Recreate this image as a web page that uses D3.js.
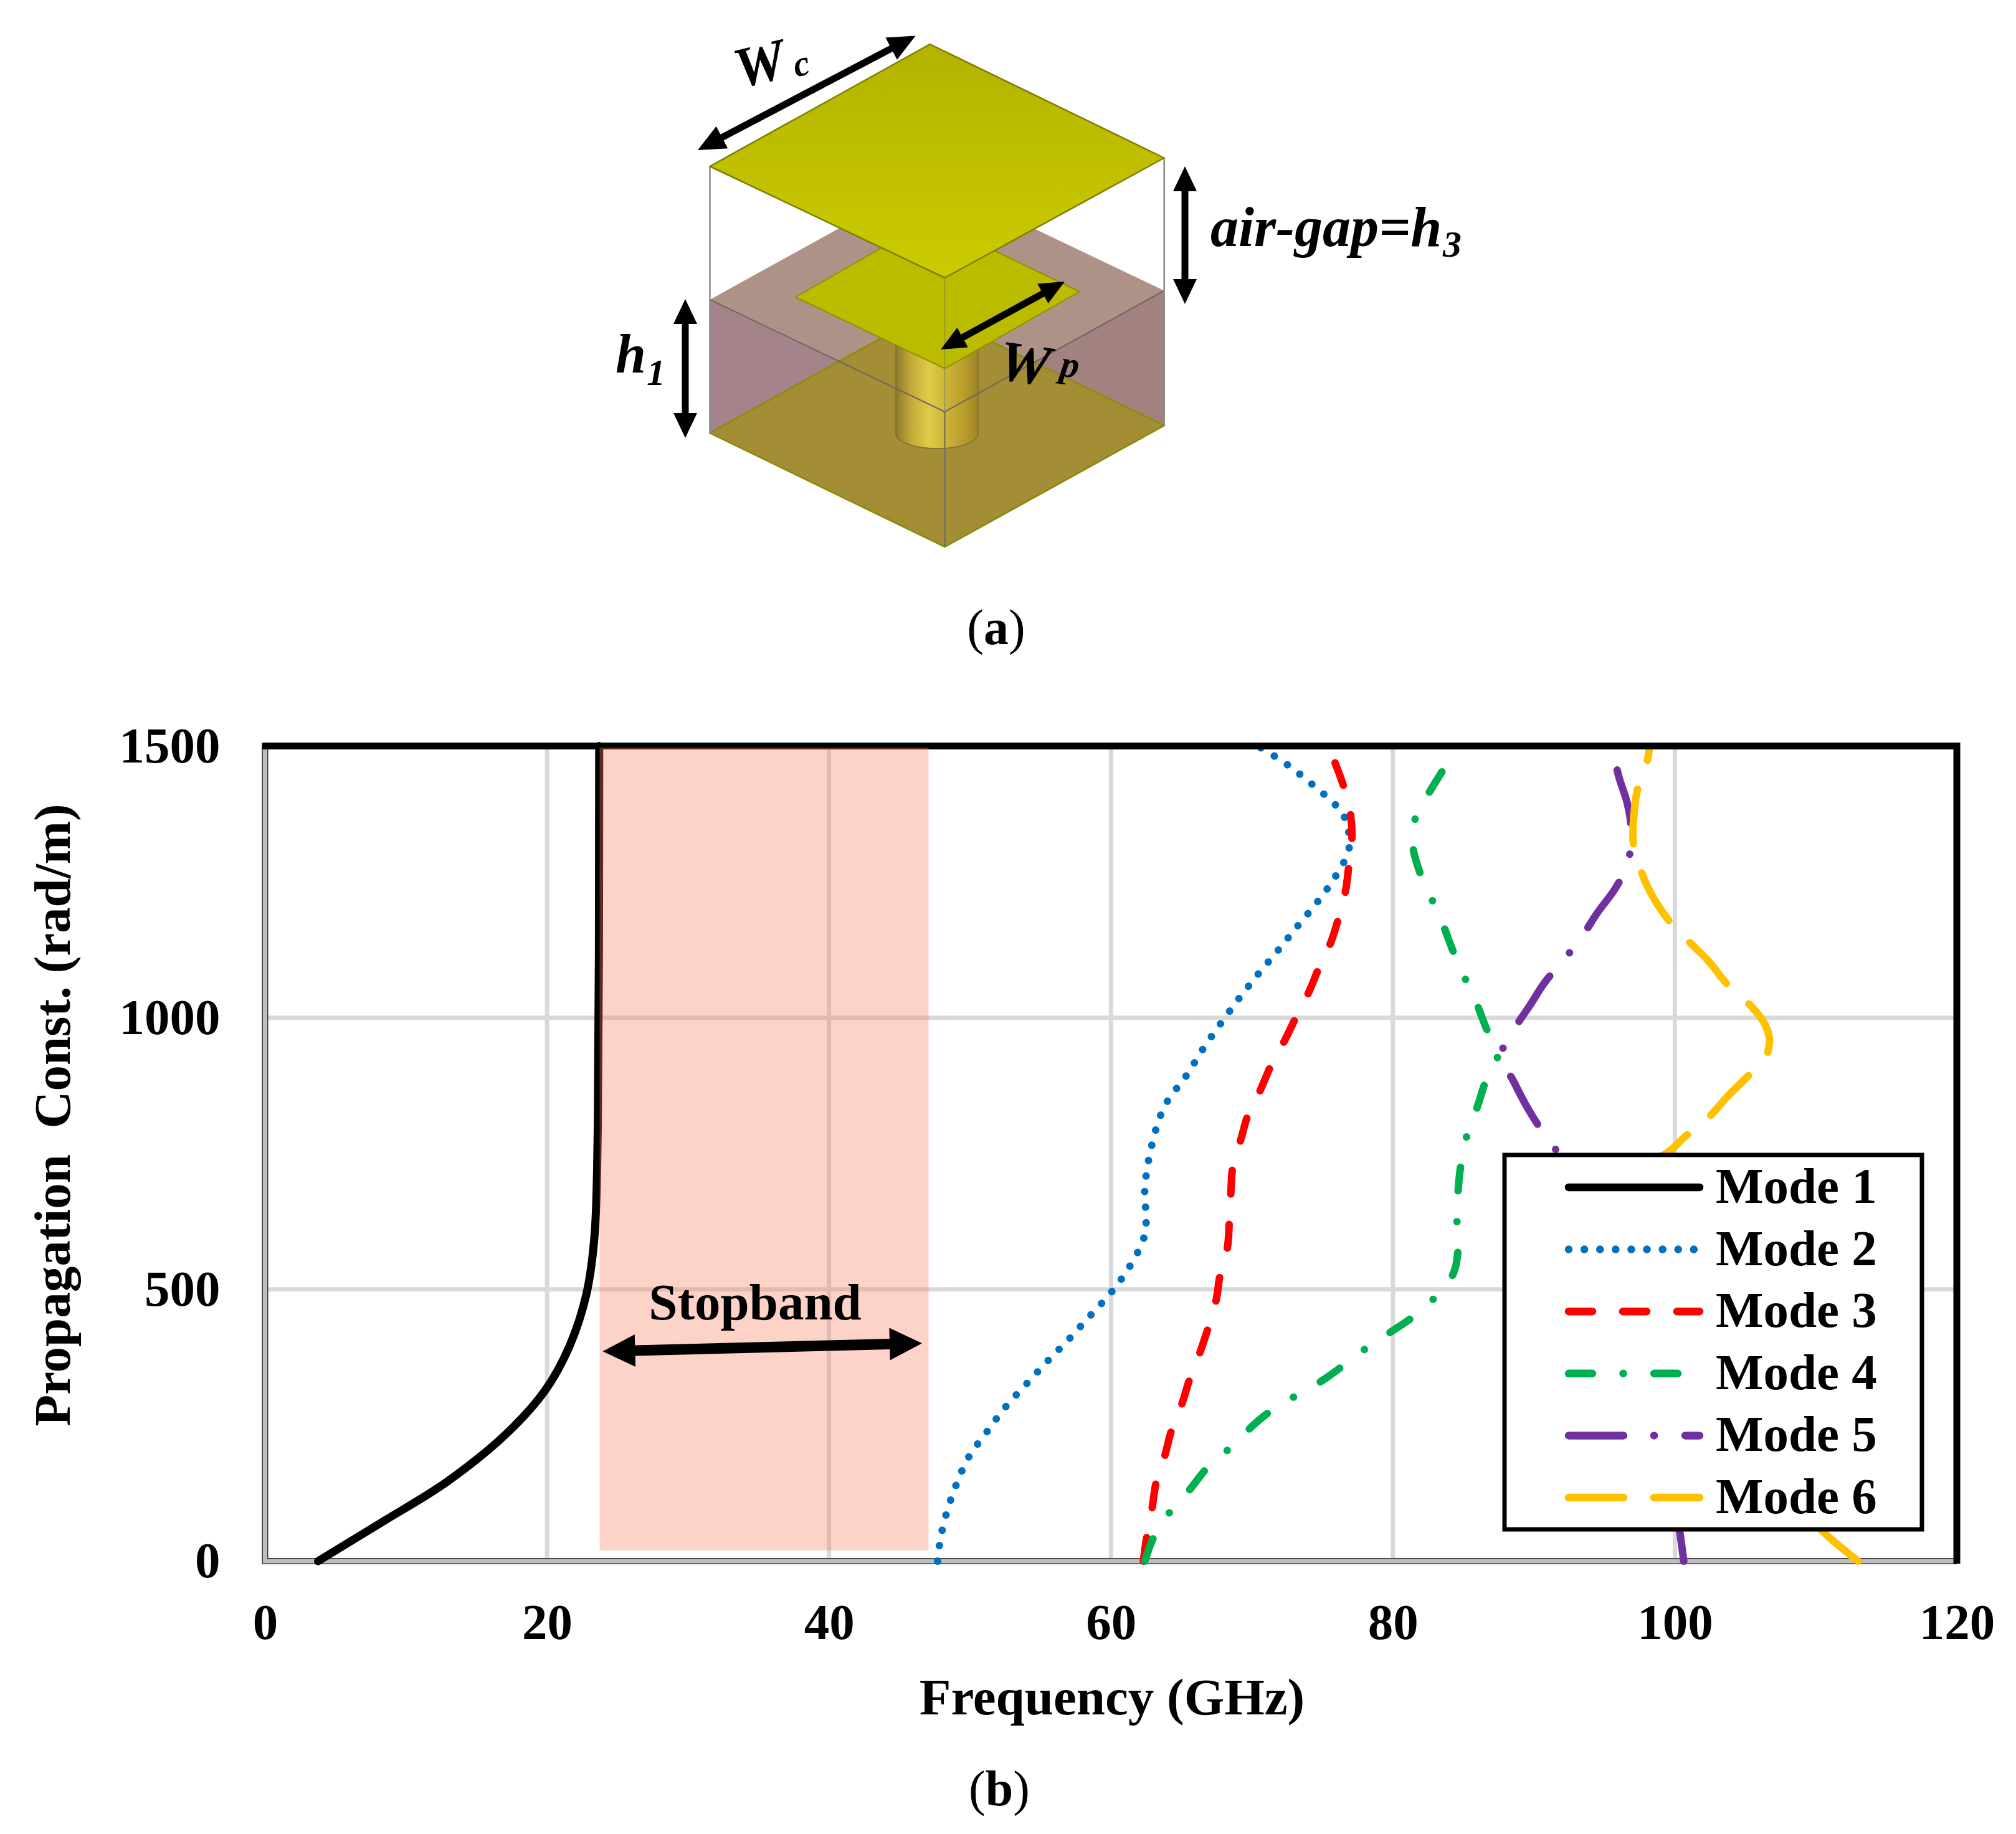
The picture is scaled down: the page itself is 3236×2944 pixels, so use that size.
<!DOCTYPE html>
<html>
<head>
<meta charset="utf-8">
<script src="https://cdn.jsdelivr.net/npm/d3@7"></script>
<style>
  html, body { margin: 0; padding: 0; background: #fff; }
  svg { display: block; }
  text { font-family: "Liberation Serif", serif; fill: #000; }
</style>
</head>
<body>
<svg id="fig" width="3236" height="2944"></svg>
<script>
// values, [frequency GHz, propagation const rad/m]
const mode1 = [[3.76,0],[8.18,70],[12.9,146],[17.18,236],[19.86,314],[21.6,396],[22.78,490],[23.36,596],[23.6,800],[23.7,1500]];
const mode2 = [[47.7,0],[47.9,40],[48.3,85],[49,139],[49.9,191],[51.2,238],[52.5,283],[54,326],[55.5,368],[57,408],[58.5,451],[60,494],[61.3,541],[62.3,592],[62.5,625],[62.4,684],[62.9,766],[63.8,837],[65.36,894],[66.54,943],[67.8,990],[69.1,1036],[70.46,1081],[71.88,1125],[73.28,1170],[74.67,1214],[75.95,1261],[76.9,1313],[76.6,1367],[75.99,1390],[74.34,1428],[72.6,1464],[70.75,1495],[70.4,1500]];
const mode3 = [[62.3,0],[62.55,47],[62.9,94],[63.2,144],[63.8,192],[64.3,241],[65,287],[65.6,336],[66.3,383],[66.9,430],[67.45,479],[67.75,528],[68.26,577],[68.4,627],[68.5,676],[68.66,729],[69.2,775],[69.76,824],[70.6,867],[71.4,915],[72.3,957],[73.2,1005],[74.05,1048],[74.8,1095],[75.6,1139],[76.2,1189],[76.65,1235],[76.9,1287],[77.1,1337],[76.9,1388],[76.4,1434],[75.7,1482]];
const mode4 = [[62.4,0],[63.05,45],[64.2,91],[65.6,132],[66.8,171],[68.3,205],[71,270],[75.2,336],[77.9,388],[79.75,420],[81.5,451],[83,486],[84.28,529],[84.63,578],[84.54,632],[84.63,684],[84.86,736],[85.3,788],[86,837],[86.6,885],[87.46,935],[86.6,982],[85.9,1029],[85,1079],[84.2,1127],[83.5,1175],[82.66,1224],[81.85,1272],[81.4,1321],[81.67,1374],[82.7,1420],[83.9,1470]];
const mode5 = [[100.63,0],[100.34,55],[99.7,150],[98.5,300],[96.5,500],[94,650],[91.8,748],[90.65,789],[89.55,834],[88.6,881],[87.7,931],[88.6,979],[89.7,1022],[90.8,1066],[92.2,1109],[93.5,1153],[94.5,1193],[95.8,1239],[96.7,1288],[96.87,1357],[96.6,1397],[96,1446],[95.6,1495]];
const mode6 = [[113,0],[110.6,52],[107,150],[103,280],[99,450],[95.5,620],[95,710],[99.25,748],[100.8,783],[102.4,817],[103.8,857],[105.2,893],[106.5,931],[106.7,962],[106.3,992],[105.2,1027],[103.7,1062],[102.4,1104],[101,1140],[99.6,1178],[98.3,1229],[97.6,1270],[97.06,1320],[97.1,1374],[97.4,1426],[98.05,1474],[98.2,1500]];

const modes = [mode1, mode2, mode3, mode4, mode5, mode6];
const modeNames = ["Mode 1", "Mode 2", "Mode 3", "Mode 4", "Mode 5", "Mode 6"];
const modeColors = ["#000000", "#0070c0", "#ff0000", "#00b050", "#7030a0", "#ffc000"];
const modeDashes = ["none", "0.1 25", "38 49", "38 49.5 0.1 49.5", "88 49 0.1 50", "88 49"];

const xTicks = [0, 20, 40, 60, 80, 100, 120];
const yTicks = [0, 500, 1000, 1500];
const stopbandFreq = [23.73, 47.06];
const stopbandBeta = [20, 1497];
const stopbandArrow = [[23.95, 386], [46.6, 401]];

const svg = d3.select("#fig");
const x = d3.scaleLinear().domain([0, 120]).range([425.5, 3141]);
const y = d3.scaleLinear().domain([0, 1500]).range([2506, 1197.6]);
const font = "Liberation Serif";

// double headed arrow as one polygon
function arrow(g, x1, y1, x2, y2, w, len, half) {
  const a = Math.atan2(y2 - y1, x2 - x1), c = Math.cos(a), s = Math.sin(a);
  const pt = (d, n) => [x1 + c * d + -s * n, y1 + s * d + c * n];
  const L = Math.hypot(x2 - x1, y2 - y1);
  const pts = [pt(0, 0), pt(len, -half), pt(len, -w / 2), pt(L - len, -w / 2), pt(L - len, -half),
    pt(L, 0), pt(L - len, half), pt(L - len, w / 2), pt(len, w / 2), pt(len, half)];
  g.append("polygon").attr("points", pts.join(" ")).attr("fill", "#000");
}

// ---------- panel (a), the drawing of the unit cell ----------
const defs = svg.append("defs");
const plateGrad = defs.append("linearGradient").attr("id", "plate").attr("x1", 0).attr("y1", 0).attr("x2", 0).attr("y2", 1);
plateGrad.append("stop").attr("offset", 0).attr("stop-color", "#b3b300");
plateGrad.append("stop").attr("offset", 1).attr("stop-color", "#cbcb00");
const viaGrad = defs.append("linearGradient").attr("id", "via");
[[0, "#8f7a2c"], [0.18, "#c2a93a"], [0.4, "#e0cb48"], [0.6, "#cdb53a"], [0.85, "#b89a2a"], [1, "#9c8428"]].forEach(s =>
  viaGrad.append("stop").attr("offset", s[0]).attr("stop-color", s[1]));

const cell = svg.append("g");
const poly = (pts, fill, stroke, sw) => cell.append("polygon").attr("points", pts.join(" "))
  .attr("fill", fill).attr("stroke", stroke || "none").attr("stroke-width", sw || 0).attr("stroke-linejoin", "round");
const seg = (a, b, c, w) => cell.append("line").attr("x1", a[0]).attr("y1", a[1]).attr("x2", b[0]).attr("y2", b[1])
  .attr("stroke", c || "#6f6660").attr("stroke-width", w || 2);

const subL = [1139.5, 481], subF = [1516.5, 661], subR = [1868.7, 466.5], subB = [1491.7, 286.5];
const gndL = [1139.5, 695], gndF = [1516.5, 877.6], gndR = [1868.7, 683], gndB = [1491.7, 500];

poly([subL, subF, subR, subB], "#ae9288");
poly([subL, subF, gndF, gndL], "#a5838a");
poly([subF, subR, gndR, gndF], "#a28280");
poly([gndL, gndF, gndR, gndB], "#a38d35", "#8c8c10", 3);
seg(subL, subF); seg(subF, subR);

// via
cell.append("ellipse").attr("cx", 1504).attr("cy", 696).attr("rx", 66).attr("ry", 24)
  .attr("fill", "url(#via)").attr("stroke", "#7d6c34").attr("stroke-width", 1.5);
cell.append("rect").attr("x", 1438).attr("y", 530).attr("width", 132).attr("height", 166).attr("fill", "url(#via)");
seg([1438, 530], [1438, 696], "#7d6c34", 1.5); seg([1570, 530], [1570, 696], "#7d6c34", 1.5);
seg([1438, 623.5], subF, "#6f6660", 2); seg(subF, [1570, 631.5], "#6f6660", 2);

// patch
poly([[1277, 477], [1516.5, 591.6], [1732.8, 468], [1493.3, 353]], "#bbbb00", "#8f8f00", 2);
seg([1516.5, 446], [1516.5, 591.6], "#8f8f30", 1.5);
seg([1516.5, 661], gndF, "#6f6660", 2);
seg([1139.5, 267], gndL, "#8a8a8a", 2.5);
seg([1868.7, 253.5], gndR, "#8a8a8a", 2.5);
seg([1516.5, 591.6], subF, "#8f8f60", 1.5);

// top plate
poly([[1492.6, 71], [1868.7, 253.5], [1516.5, 446], [1139.5, 267]], "url(#plate)", "#7f7f00", 2.5);

arrow(cell, 1120, 241, 1469.6, 57.5, 11, 44, 20);
arrow(cell, 1902, 267, 1902, 488, 11, 40, 19);
arrow(cell, 1100, 480, 1100, 703, 11, 40, 19);
arrow(cell, 1510, 561, 1709, 452, 11, 40, 18);

const label = (txt, px, py, size, rot) => svg.append("text").text(txt)
  .attr("transform", `translate(${px},${py}) rotate(${rot || 0})`)
  .attr("font-size", size).attr("font-style", "italic").attr("font-weight", "bold");
label("W", 1187, 142, 92, -14);
label("c", 1278, 124, 58, -14);
label("air-gap=h", 1943, 395, 90);
label("3", 2316, 412, 60);
label("h", 988, 598, 88);
label("1", 1038, 618, 60);
label("W", 1600, 608, 92, 8);
label("p", 1700, 603, 60, 8);

const caption = (letter, px, py) => {
  const t = svg.append("text").attr("x", px).attr("y", py).attr("text-anchor", "middle").attr("font-size", 80);
  t.append("tspan").text("(");
  t.append("tspan").attr("font-weight", "bold").text(letter);
  t.append("tspan").text(")");
};
caption("a", 1599, 1034);
caption("b", 1604, 2898);

// ---------- panel (b), the chart ----------
const grid = svg.append("g").attr("stroke", "#d9d9d9").attr("stroke-width", 7);
grid.selectAll(".gx").data(xTicks.slice(1, -1)).join("line")
  .attr("x1", d => x(d)).attr("x2", d => x(d)).attr("y1", y(0)).attr("y2", y(1500));
grid.selectAll(".gy").data(yTicks.slice(1, -1)).join("line")
  .attr("x1", x(0)).attr("x2", x(120)).attr("y1", d => y(d)).attr("y2", d => y(d));

// left and bottom axis lines are grey with a dark edge
const axisPath = `M${x(0)},${y(1500)}V${y(0)}H${x(120)}`;
svg.append("path").attr("d", axisPath).attr("fill", "none").attr("stroke", "#3a3a3a").attr("stroke-width", 10);
svg.append("path").attr("d", axisPath).attr("fill", "none").attr("stroke", "#bfbfbf").attr("stroke-width", 7);

const xAxis = svg.append("g").attr("transform", `translate(0,${y(0)})`)
  .call(d3.axisBottom(x).tickValues(xTicks).tickSize(0).tickPadding(67));
const yAxis = svg.append("g").attr("transform", `translate(${x(0)},0)`)
  .call(d3.axisLeft(y).tickValues(yTicks).tickSize(0).tickPadding(72).tickFormat(d3.format("d")));
[xAxis, yAxis].forEach(a => {
  a.select(".domain").remove();
  a.selectAll("text").attr("font-family", font).attr("font-size", 81).attr("font-weight", "bold").attr("fill", "#000");
});

const line = d3.line().x(d => x(d[0])).y(d => y(d[1])).curve(d3.curveCatmullRom.alpha(0.5));
svg.append("g").selectAll("path").data(modes).join("path")
  .attr("d", line)
  .attr("fill", "none")
  .attr("stroke", (d, i) => modeColors[i])
  .attr("stroke-width", (d, i) => i === 0 ? 13 : 12)
  .attr("stroke-linecap", "round")
  .attr("stroke-linejoin", "round")
  .attr("stroke-dasharray", (d, i) => modeDashes[i]);

// top and right borders are black
svg.append("path").attr("d", `M${x(0) - 5},${y(1500)}H${x(120)}V${y(0) + 4}`)
  .attr("fill", "none").attr("stroke", "#000").attr("stroke-width", 11);

// stopband shading lies over the grid and the curve
svg.append("rect")
  .attr("x", x(stopbandFreq[0])).attr("width", x(stopbandFreq[1]) - x(stopbandFreq[0]))
  .attr("y", y(stopbandBeta[1])).attr("height", y(stopbandBeta[0]) - y(stopbandBeta[1]))
  .attr("fill", "rgb(249,129,98)").attr("fill-opacity", 0.35);
arrow(svg, x(stopbandArrow[0][0]), y(stopbandArrow[0][1]), x(stopbandArrow[1][0]), y(stopbandArrow[1][1]), 17, 52, 26);
svg.append("text").text("Stopband").attr("x", 1212).attr("y", 2118).attr("text-anchor", "middle")
  .attr("font-size", 83).attr("font-weight", "bold");

// axis titles
svg.append("text").text("Frequency (GHz)").attr("x", 1785).attr("y", 2752).attr("text-anchor", "middle")
  .attr("font-size", 83).attr("font-weight", "bold");
svg.append("text").text("Propagation  Const. (rad/m)").attr("xml:space", "preserve").style("white-space", "pre")
  .attr("transform", "translate(112,1790) rotate(-90)").attr("text-anchor", "middle")
  .attr("font-size", 83).attr("font-weight", "bold");

// legend
const legend = svg.append("g");
legend.append("rect").attr("x", 2415).attr("y", 1854).attr("width", 670).attr("height", 601)
  .attr("fill", "#fff").attr("stroke", "#000").attr("stroke-width", 7);
const rowY = d3.scalePoint().domain(modeNames).range([1906, 2404]);
legend.selectAll("line").data(modeNames).join("line")
  .attr("x1", 2518).attr("x2", 2728)
  .attr("y1", d => rowY(d)).attr("y2", d => rowY(d))
  .attr("stroke", (d, i) => modeColors[i])
  .attr("stroke-width", 12.5)
  .attr("stroke-linecap", "round")
  .attr("stroke-dasharray", (d, i) => modeDashes[i]);
legend.selectAll("text").data(modeNames).join("text").text(d => d)
  .attr("x", 2754).attr("y", d => rowY(d) + 25)
  .attr("font-size", 81).attr("font-weight", "bold");
</script>
</body>
</html>
